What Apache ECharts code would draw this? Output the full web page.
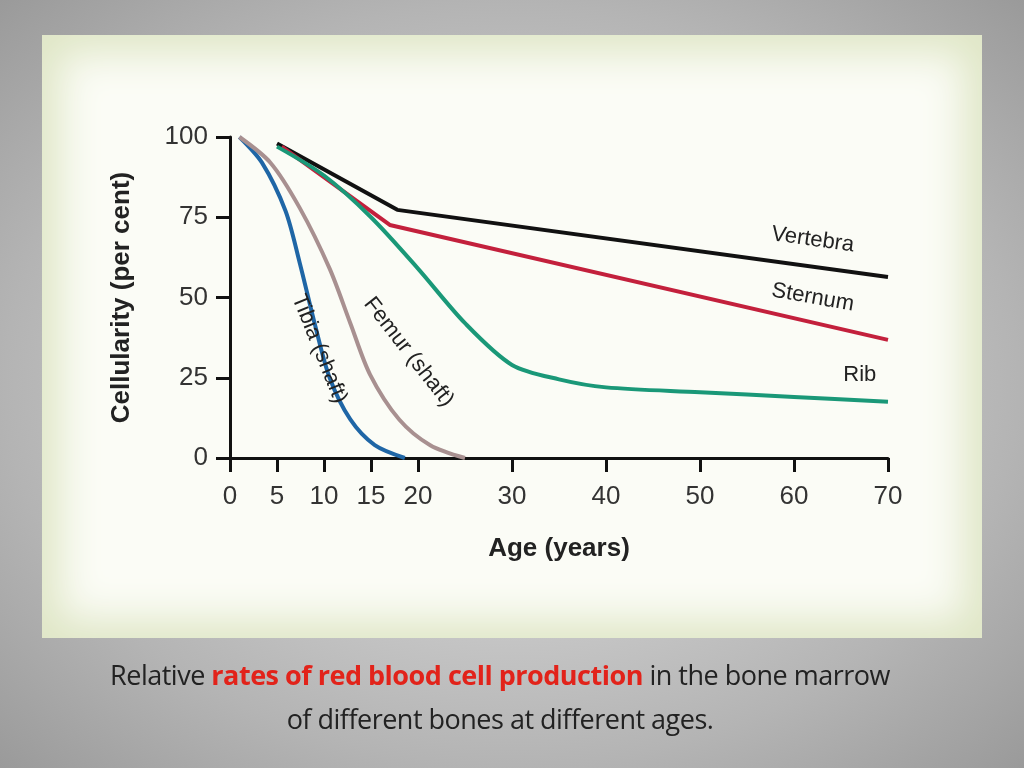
<!DOCTYPE html>
<html>
<head>
<meta charset="utf-8">
<script src="https://cdn.jsdelivr.net/npm/echarts@6/dist/echarts.min.js"></script>
<style>
body { margin:0; width:1024px; height:768px; overflow:hidden;
  background: radial-gradient(ellipse at center, #e6e6e6 0%, #b4b4b4 70%, #9a9a9a 100%); font-family: "Open Sans", sans-serif; }
#panel { position:absolute; left:42px; top:35px; width:940px; height:603px;
  background:#fbfcf6; box-shadow: inset 0 0 40px 18px #dfe6c6; }
#main1 { position:absolute; left:0; top:0; width:1024px; height:768px; }
#cap { position:absolute; left:0; top:653px; width:1000px; text-align:center; font-size:27px; color:#222; line-height:44px; letter-spacing:-0.5px; }
#cap span { color:#e2231a; font-weight:bold; }
</style>
</head>
<body>
<div id="panel"></div>
<div id="main1"></div>
<div id="cap">Relative <span>rates of red blood cell production</span> in the bone marrow<br>of different bones at different ages.</div>
<script>
// age (years), cellularity (per cent)
const vertebra = [[5, 98], [17.8, 77.3], [70, 56.4]];
const sternum = [[5.5, 97], [17, 72.6], [70, 36.8]];
const rib = [[5, 97], [10, 88], [15, 75], [20, 59], [25, 42], [30, 29], [35, 24.5], [40, 22], [50, 20.5], [60, 19], [70, 17.5]];
const tibia = [[1, 100], [3.4, 92], [5.9, 77], [7.4, 61], [9, 42], [10.6, 25], [12.8, 12], [15.4, 4], [18.6, 0]];
const femur = [[1, 100], [4.3, 92], [7.4, 78], [10.6, 59], [12.8, 42], [14.9, 26], [18, 12], [21.3, 4], [25, 0]];
const xTicks = [0, 5, 10, 15, 20, 30, 40, 50, 60, 70];

function lbl(text, coord, rot) {
  return { coord: coord, symbol: 'circle', symbolSize: 1, itemStyle: { color: 'rgba(0,0,0,0)' },
    label: { show: true, position: 'inside', formatter: text, rotate: rot, color: '#222', fontSize: 22, fontFamily: 'Liberation Sans' } };
}
function line(name, data, color, smooth, mp) {
  return { name: name, type: 'line', data: data, smooth: smooth, symbol: 'none',
    lineStyle: { color: color, width: 4 }, z: 3,
    markPoint: { data: mp } };
}

let optionObj = {
  animation: false,
  grid: { left: 230, right: 136, top: 137, bottom: 310 },
  xAxis: { type: 'value', min: 0, max: 70, interval: 5,
    name: 'Age (years)', nameLocation: 'middle', nameGap: 78,
    nameTextStyle: { fontSize: 26, fontWeight: 'bold', color: '#222', fontFamily: 'Liberation Sans' },
    axisLine: { lineStyle: { color: '#111', width: 3 } },
    axisTick: { customValues: xTicks, length: 14, lineStyle: { width: 3, color: '#111' } },
    axisLabel: { customValues: xTicks, fontSize: 26, color: '#333', margin: 26, fontFamily: 'Liberation Sans' },
    splitLine: { show: false } },
  yAxis: { type: 'value', min: 0, max: 100, interval: 25,
    name: 'Cellularity (per cent)', nameLocation: 'middle', nameGap: 95, nameRotate: 90,
    nameTextStyle: { fontSize: 26, fontWeight: 'bold', color: '#222', fontFamily: 'Liberation Sans' },
    axisLine: { show: true, lineStyle: { color: '#111', width: 3 } },
    axisTick: { show: true, length: 14, lineStyle: { width: 3, color: '#111' } },
    axisLabel: { fontSize: 26, color: '#333', margin: 22, fontFamily: 'Liberation Sans' },
    splitLine: { show: false } },
  series: [
    line('Vertebra', vertebra, '#111', false, [lbl('Vertebra', [62, 68], -8)]),
    line('Sternum', sternum, '#c3203c', false, [lbl('Sternum', [62, 50], -10)]),
    line('Rib', rib, '#1a9878', 0.3, [lbl('Rib', [67, 26], 0)]),
    line('Tibia', tibia, '#1f66a6', 0.3, [lbl('Tibia (shaft)', [9.5, 34], -68)]),
    line('Femur', femur, '#a89090', 0.3, [lbl('Femur (shaft)', [19, 33], -52)])
  ]
};

let myChart = echarts.init(document.getElementById('main1'));
myChart.setOption(optionObj);
</script>
</body>
</html>
